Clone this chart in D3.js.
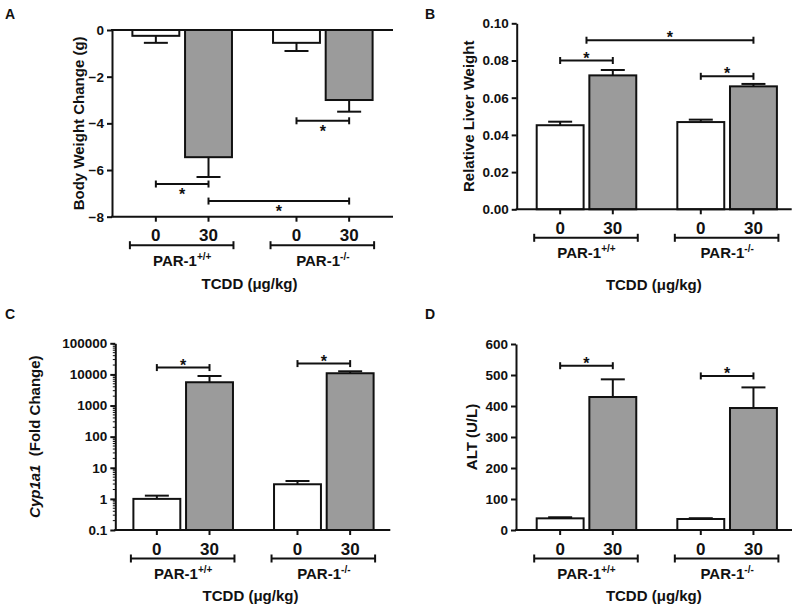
<!DOCTYPE html>
<html>
<head>
<meta charset="utf-8">
<script src="https://cdn.jsdelivr.net/npm/d3@7"></script>
<style>
  html, body { margin: 0; padding: 0; background: #fff; }
  svg { display: block; }
  text { font-family: 'Liberation Sans', Arial, sans-serif; font-weight: bold; fill: #111; }
</style>
</head>
<body>
<svg id="chart" width="800" height="612"></svg>
<script>
// ---------------- DATA ----------------
const groups = ["PAR-1+/+", "PAR-1-/-"];
const groupBase = ["PAR-1", "PAR-1"];
const groupSup = ["+/+", "-/-"];
const doses = ["0", "30"];
const xAxisTitle = "TCDD (\u03bcg/kg)";

// Panel A: body weight change (g)
const bodyWeightMean = [-0.25, -5.45, -0.55, -3.0];
const bodyWeightSem = [0.3, 0.85, 0.35, 0.5];
const bodyWeightTicks = [0, -2, -4, -6, -8];
const bodyWeightSig = [
  { from: 0, to: 1, y: -6.6 },
  { from: 1, to: 3, y: -7.33 },
  { from: 2, to: 3, y: -3.89 }
];

// Panel B: relative liver weight
const liverMean = [0.0452, 0.0720, 0.0469, 0.0661];
const liverSem = [0.0019, 0.0029, 0.0013, 0.0013];
const liverTicks = [0, 0.02, 0.04, 0.06, 0.08, 0.10];
const liverSig = [
  { from: 0, to: 1, y: 0.080 },
  { from: 0.5, to: 3, y: 0.0909 },
  { from: 2, to: 3, y: 0.0715 }
];

// Panel C: Cyp1a1 fold change (log)
const cypMean = [1.0, 5600, 2.95, 10900];
const cypSem = [0.27, 3300, 0.81, 1700];
const cypTicks = [0.1, 1, 10, 100, 1000, 10000, 100000];
const cypTickLabels = ["0.1", "1", "10", "100", "1000", "10000", "100000"];
const cypSig = [
  { from: 0, to: 1, y: 16600 },
  { from: 2, to: 3, y: 22300 }
];

// Panel D: ALT (U/L)
const altMean = [37.6, 429, 35.5, 393.5];
const altSem = [3.5, 57, 2.5, 66.5];
const altTicks = [0, 100, 200, 300, 400, 500, 600];
const altSig = [
  { from: 0, to: 1, y: 530 },
  { from: 2, to: 3, y: 497 }
];

const barFills = ["#ffffff", "#9b9b9b"];

// ---------------- DRAWING ----------------
const svg = d3.select("#chart");

function drawPanel(cfg) {
  const g = svg.append("g");
  const outer = d3.scaleBand().domain(groups)
    .range([cfg.bandStart, cfg.bandStart + 281])
    .paddingInner(0.292).paddingOuter(0.145);
  const inner = d3.scaleBand().domain(doses)
    .range([0, outer.bandwidth()]).paddingInner(0.109);
  const y = cfg.log ? d3.scaleLog().domain(cfg.domain).range([cfg.yBottom, cfg.yTop])
                    : d3.scaleLinear().domain(cfg.domain).range([cfg.yBottom, cfg.yTop]);

  const bars = cfg.mean.map((v, i) => ({
    v, sem: cfg.sem[i], group: groups[Math.floor(i / 2)], dose: doses[i % 2], fill: barFills[i % 2]
  }));
  const barX = d => outer(d.group) + inner(d.dose);
  const barCx = d => barX(d) + inner.bandwidth() / 2;
  const centerAt = f => {
    const i0 = Math.floor(f), frac = f - i0;
    const c0 = barCx(bars[i0]);
    if (frac === 0) return c0;
    return c0 + (barCx(bars[i0 + 1]) - c0) * frac;
  };
  const y0 = y(cfg.base);

  // error bars
  g.selectAll(".err").data(bars).enter().append("g").each(function (d) {
    const sign = d.v < 0 ? -1 : 1;
    const end = d.v + sign * d.sem;
    const sel = d3.select(this);
    sel.append("line").attr("x1", barCx(d)).attr("x2", barCx(d))
      .attr("y1", y(d.v)).attr("y2", y(end))
      .attr("stroke", "#111").attr("stroke-width", 2);
    sel.append("line").attr("x1", barCx(d) - 12).attr("x2", barCx(d) + 12)
      .attr("y1", y(end)).attr("y2", y(end))
      .attr("stroke", "#111").attr("stroke-width", 2);
  });

  // bars
  g.selectAll(".bar").data(bars).enter().append("rect")
    .attr("x", barX)
    .attr("width", inner.bandwidth())
    .attr("y", d => Math.min(y(d.v), y0))
    .attr("height", d => Math.abs(y(d.v) - y0))
    .attr("fill", d => d.fill)
    .attr("stroke", "#111").attr("stroke-width", 2);

  // y axis
  const axis = d3.axisLeft(y).tickValues(cfg.ticks).tickSize(5).tickSizeOuter(0).tickPadding(3)
    .tickFormat(cfg.tickFormat);
  const ax = g.append("g").attr("transform", `translate(${cfg.axisX},0)`).call(axis);
  ax.select(".domain").attr("stroke", "#111").attr("stroke-width", 2);
  ax.selectAll(".tick line").attr("stroke", "#111").attr("stroke-width", 2);
  ax.selectAll(".tick text").attr("font-size", 13.5).attr("font-weight", "bold")
    .attr("font-family", "'Liberation Sans', Arial, sans-serif").attr("fill", "#111");

  if (cfg.log) {
    const minor = [];
    for (let p = -1; p < 5; p++) for (let m = 2; m <= 9; m++) minor.push(m * Math.pow(10, p));
    g.selectAll(".minor").data(minor).enter().append("line")
      .attr("x1", cfg.axisX - 2.5).attr("x2", cfg.axisX)
      .attr("y1", d => y(d)).attr("y2", d => y(d))
      .attr("stroke", "#111").attr("stroke-width", 1);
  }

  // horizontal axis line(s)
  const xEnd = cfg.axisX + cfg.xLen;
  g.append("line").attr("x1", cfg.axisX - 1).attr("x2", xEnd)
    .attr("y1", cfg.yBottom).attr("y2", cfg.yBottom)
    .attr("stroke", "#111").attr("stroke-width", 2);
  if (cfg.zeroLine) {
    g.append("line").attr("x1", cfg.axisX - 1).attr("x2", xEnd)
      .attr("y1", y(0)).attr("y2", y(0))
      .attr("stroke", "#111").attr("stroke-width", 2);
  }

  // category ticks and labels
  bars.forEach(d => {
    g.append("line").attr("x1", barCx(d)).attr("x2", barCx(d))
      .attr("y1", cfg.yBottom).attr("y2", cfg.yBottom + 5)
      .attr("stroke", "#111").attr("stroke-width", 2);
    g.append("text").attr("x", barCx(d)).attr("y", cfg.yBottom + 24.5)
      .attr("text-anchor", "middle").attr("font-size", 17).text(d.dose);
  });

  // group brackets and labels
  groups.forEach((grp, gi) => {
    const xa = outer(grp) - 2.5, xb = outer(grp) + outer.bandwidth() + 1.5;
    const yb = cfg.yBottom + 28.5;
    g.append("line").attr("x1", xa).attr("x2", xb).attr("y1", yb).attr("y2", yb)
      .attr("stroke", "#111").attr("stroke-width", 2);
    [xa, xb].forEach(xx => g.append("line").attr("x1", xx).attr("x2", xx)
      .attr("y1", yb - 4).attr("y2", yb + 4).attr("stroke", "#111").attr("stroke-width", 2));
    const t = g.append("text").attr("x", outer(grp) + outer.bandwidth() / 2)
      .attr("y", cfg.yBottom + 49).attr("text-anchor", "middle").attr("font-size", 15);
    t.append("tspan").text(groupBase[gi]);
    t.append("tspan").attr("font-size", 10).attr("dy", -6).text(groupSup[gi]);
  });

  // x title
  g.append("text").attr("x", cfg.bandStart + 140.5 - 3).attr("y", cfg.yBottom + cfg.titleDy)
    .attr("text-anchor", "middle").attr("font-size", 15).text(xAxisTitle);

  // y title
  const yt = g.append("text")
    .attr("transform", `translate(${cfg.yTitleX},${(cfg.yTop + cfg.yBottom) / 2}) rotate(-90)`)
    .attr("text-anchor", "middle").attr("font-size", 15);
  cfg.yTitle.forEach(part => {
    const ts = yt.append("tspan").text(part.t);
    if (part.italic) ts.attr("font-style", "italic");
  });

  // significance brackets
  cfg.sig.forEach(s => {
    const xa = centerAt(s.from), xb = centerAt(s.to), yy = y(s.y);
    g.append("line").attr("x1", xa).attr("x2", xb).attr("y1", yy).attr("y2", yy)
      .attr("stroke", "#111").attr("stroke-width", 2);
    [xa, xb].forEach(xx => g.append("line").attr("x1", xx).attr("x2", xx)
      .attr("y1", yy - 3.5).attr("y2", yy + 3.5).attr("stroke", "#111").attr("stroke-width", 2));
    g.append("text").attr("x", (xa + xb) / 2)
      .attr("y", cfg.starBelow ? yy + 16 : yy + 3)
      .attr("text-anchor", "middle").attr("font-size", 16).text("*");
  });

  // panel letter
  g.append("text").attr("x", cfg.letterX).attr("y", cfg.letterY)
    .attr("font-size", 14).text(cfg.letter);
}

drawPanel({
  letter: "A", letterX: 5, letterY: 18.5,
  mean: bodyWeightMean, sem: bodyWeightSem, ticks: bodyWeightTicks, sig: bodyWeightSig,
  domain: [-8, 0], yTop: 30, yBottom: 216.7, axisX: 112, xLen: 281, bandStart: 112,
  base: 0, zeroLine: true, starBelow: true, tickFormat: d3.format("d"),
  yTitle: [{ t: "Body Weight Change (g)" }], yTitleX: 84, titleDy: 72
});

drawPanel({
  letter: "B", letterX: 425, letterY: 18.5,
  mean: liverMean, sem: liverSem, ticks: liverTicks, sig: liverSig,
  domain: [0, 0.10], yTop: 23.3, yBottom: 209.3, axisX: 516.7, xLen: 275, bandStart: 516.3,
  base: 0, zeroLine: false, starBelow: false, tickFormat: d3.format(".2f"),
  yTitle: [{ t: "Relative Liver Weight" }], yTitleX: 473.5, titleDy: 80.5
});

drawPanel({
  letter: "C", letterX: 5, letterY: 319,
  mean: cypMean, sem: cypSem, ticks: cypTicks, sig: cypSig, log: true,
  domain: [0.1, 100000], yTop: 343.3, yBottom: 530, axisX: 115.3, xLen: 275, bandStart: 113,
  base: 0.1, zeroLine: false, starBelow: false,
  tickFormat: (d, i) => cypTickLabels[i],
  yTitle: [{ t: "Cyp1a1", italic: true }, { t: "\u00a0\u00a0(Fold Change)" }], yTitleX: 40, titleDy: 70.5
});

drawPanel({
  letter: "D", letterX: 425, letterY: 319,
  mean: altMean, sem: altSem, ticks: altTicks, sig: altSig,
  domain: [0, 600], yTop: 344, yBottom: 530, axisX: 516, xLen: 276, bandStart: 516.3,
  base: 0, zeroLine: false, starBelow: false, tickFormat: d3.format("d"),
  yTitle: [{ t: "ALT (U/L)" }], yTitleX: 476.5, titleDy: 70.5
});
</script>
</body>
</html>
